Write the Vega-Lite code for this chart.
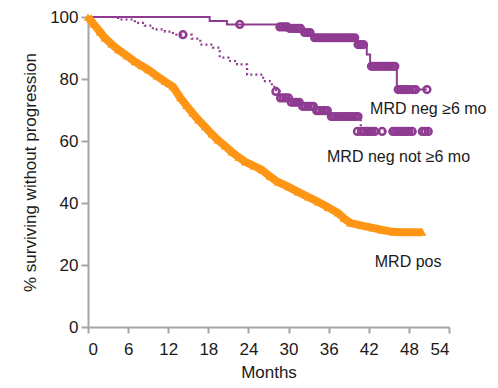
{
  "$schema": "https://vega.github.io/schema/vega-lite/v6.json",
  "width": 361,
  "height": 310,
  "autosize": "none",
  "padding": {"left": 88, "top": 17, "right": 49, "bottom": 61},
  "background": "white",
  "config": {
    "view": {"stroke": null},
    "font": "Liberation Sans, Arial",
    "axis": {
      "grid": false,
      "domainColor": "#a6a6a6",
      "domainWidth": 2,
      "tickColor": "#a6a6a6",
      "tickWidth": 2,
      "labelColor": "#1a1a1a",
      "titleColor": "#1a1a1a",
      "labelFont": "Liberation Sans, Arial",
      "titleFont": "Liberation Sans, Arial",
      "labelFontSize": 17,
      "titleFontSize": 17,
      "titleFontWeight": "normal"
    }
  },
  "datasets": {
    "solid": [
      {"month": 0, "pct": 100}, {"month": 18.2, "pct": 98.7}, {"month": 20.8, "pct": 97.6},
      {"month": 28.5, "pct": 96.8}, {"month": 30, "pct": 96.3}, {"month": 32.2, "pct": 95},
      {"month": 33.7, "pct": 93.3}, {"month": 40.2, "pct": 91.1}, {"month": 41.7, "pct": 87.9},
      {"month": 42.2, "pct": 84.1}, {"month": 46.2, "pct": 76.6}, {"month": 50.7, "pct": 76.6}
    ],
    "dotted": [
      {"month": 0, "pct": 100}, {"month": 4.5, "pct": 99.2}, {"month": 7.0, "pct": 98.1},
      {"month": 8.5, "pct": 97.2}, {"month": 9.7, "pct": 96}, {"month": 11.5, "pct": 95.3},
      {"month": 12.7, "pct": 94.3}, {"month": 15.5, "pct": 93}, {"month": 16.8, "pct": 91.1},
      {"month": 18.7, "pct": 90.1}, {"month": 19.7, "pct": 86.9}, {"month": 21, "pct": 85.8},
      {"month": 22.3, "pct": 84.7}, {"month": 23.8, "pct": 81.4}, {"month": 26.2, "pct": 79.3},
      {"month": 27.5, "pct": 77.5}, {"month": 28.1, "pct": 76}, {"month": 28.7, "pct": 73.9},
      {"month": 30.2, "pct": 72.5}, {"month": 32, "pct": 71.2}, {"month": 34, "pct": 69.8},
      {"month": 36.2, "pct": 67.9}, {"month": 40.8, "pct": 63.1}, {"month": 51.2, "pct": 63.1}
    ],
    "censor": [
      {"month": 22.7, "pct": 97.6},
      {"month": 28.7, "pct": 96.8}, {"month": 29.1, "pct": 96.8}, {"month": 29.5, "pct": 96.8}, {"month": 29.8, "pct": 96.8},
      {"month": 30.2, "pct": 96.3}, {"month": 30.6, "pct": 96.3}, {"month": 31.0, "pct": 96.3}, {"month": 31.4, "pct": 96.3},
      {"month": 31.8, "pct": 96.3}, {"month": 32.4, "pct": 95}, {"month": 32.8, "pct": 95}, {"month": 33.2, "pct": 95},
      {"month": 33.9, "pct": 93.3}, {"month": 34.3, "pct": 93.3}, {"month": 34.7, "pct": 93.3}, {"month": 35.1, "pct": 93.3},
      {"month": 35.5, "pct": 93.3}, {"month": 35.9, "pct": 93.3}, {"month": 36.3, "pct": 93.3}, {"month": 36.7, "pct": 93.3},
      {"month": 37.1, "pct": 93.3}, {"month": 37.5, "pct": 93.3}, {"month": 37.9, "pct": 93.3}, {"month": 38.3, "pct": 93.3},
      {"month": 38.7, "pct": 93.3}, {"month": 39.1, "pct": 93.3}, {"month": 39.5, "pct": 93.3}, {"month": 39.9, "pct": 93.3},
      {"month": 40.4, "pct": 91.1}, {"month": 40.8, "pct": 91.1}, {"month": 41.2, "pct": 91.1},
      {"month": 42.4, "pct": 84.1}, {"month": 42.8, "pct": 84.1}, {"month": 43.2, "pct": 84.1}, {"month": 43.6, "pct": 84.1},
      {"month": 44.0, "pct": 84.1}, {"month": 44.4, "pct": 84.1}, {"month": 44.8, "pct": 84.1}, {"month": 45.2, "pct": 84.1},
      {"month": 45.6, "pct": 84.1}, {"month": 45.9, "pct": 84.1},
      {"month": 46.4, "pct": 76.6}, {"month": 46.8, "pct": 76.6}, {"month": 47.2, "pct": 76.6}, {"month": 47.6, "pct": 76.6},
      {"month": 48.0, "pct": 76.6}, {"month": 48.6, "pct": 76.6}, {"month": 49.0, "pct": 76.6}, {"month": 50.7, "pct": 76.6},
      {"month": 14.2, "pct": 94.3}, {"month": 28.1, "pct": 76},
      {"month": 28.8, "pct": 73.9}, {"month": 29.2, "pct": 73.9}, {"month": 29.6, "pct": 73.9}, {"month": 30.0, "pct": 73.9},
      {"month": 30.4, "pct": 72.5}, {"month": 30.8, "pct": 72.5}, {"month": 31.2, "pct": 72.5}, {"month": 31.6, "pct": 72.5},
      {"month": 32.1, "pct": 71.2}, {"month": 32.5, "pct": 71.2}, {"month": 32.9, "pct": 71.2}, {"month": 33.3, "pct": 71.2},
      {"month": 33.7, "pct": 71.2}, {"month": 34.2, "pct": 69.8}, {"month": 34.6, "pct": 69.8}, {"month": 35.0, "pct": 69.8},
      {"month": 35.4, "pct": 69.8}, {"month": 35.8, "pct": 69.8},
      {"month": 36.4, "pct": 67.9}, {"month": 36.8, "pct": 67.9}, {"month": 37.2, "pct": 67.9}, {"month": 37.6, "pct": 67.9},
      {"month": 38.0, "pct": 67.9}, {"month": 38.4, "pct": 67.9}, {"month": 38.8, "pct": 67.9}, {"month": 39.2, "pct": 67.9},
      {"month": 39.6, "pct": 67.9}, {"month": 40.0, "pct": 67.9}, {"month": 40.4, "pct": 67.9},
      {"month": 40.3, "pct": 63.1}, {"month": 40.9, "pct": 63.1}, {"month": 41.3, "pct": 63.1}, {"month": 41.7, "pct": 63.1},
      {"month": 42.1, "pct": 63.1}, {"month": 42.5, "pct": 63.1}, {"month": 42.9, "pct": 63.1}, {"month": 44.0, "pct": 63.1},
      {"month": 45.6, "pct": 63.1}, {"month": 46.0, "pct": 63.1}, {"month": 46.4, "pct": 63.1}, {"month": 46.8, "pct": 63.1},
      {"month": 47.2, "pct": 63.1}, {"month": 47.6, "pct": 63.1}, {"month": 48.0, "pct": 63.1}, {"month": 48.5, "pct": 63.1},
      {"month": 50.0, "pct": 63.1}, {"month": 50.4, "pct": 63.1}, {"month": 50.9, "pct": 63.1}
    ],
    "pos": [
      {"month": 0, "pct": 100}, {"month": 0.8, "pct": 97.8}, {"month": 1.8, "pct": 95.2}, {"month": 2.5, "pct": 93.3},
      {"month": 3.5, "pct": 91.3}, {"month": 4.5, "pct": 89.5}, {"month": 5.8, "pct": 87.5}, {"month": 7.0, "pct": 85.6},
      {"month": 8.0, "pct": 84.3}, {"month": 9.0, "pct": 83.0}, {"month": 10.3, "pct": 81.0}, {"month": 11.5, "pct": 79.2},
      {"month": 12.7, "pct": 77.5}, {"month": 13.8, "pct": 74.0}, {"month": 14.7, "pct": 71.5}, {"month": 15.6, "pct": 69.1},
      {"month": 16.5, "pct": 66.8}, {"month": 17.5, "pct": 64.6}, {"month": 18.5, "pct": 62.3}, {"month": 19.4, "pct": 60.4},
      {"month": 20.5, "pct": 58.4}, {"month": 21.5, "pct": 56.5}, {"month": 22.5, "pct": 54.8}, {"month": 23.5, "pct": 53.3},
      {"month": 24.8, "pct": 52.0}, {"month": 26.0, "pct": 50.7}, {"month": 27.2, "pct": 48.6}, {"month": 28.4, "pct": 46.8},
      {"month": 30.0, "pct": 45.2}, {"month": 31.4, "pct": 43.6}, {"month": 32.9, "pct": 42.0}, {"month": 34.4, "pct": 40.4},
      {"month": 35.9, "pct": 38.6}, {"month": 37.4, "pct": 36.8}, {"month": 38.3, "pct": 35.0}, {"month": 39.2, "pct": 33.6},
      {"month": 40.8, "pct": 32.8}, {"month": 42.6, "pct": 32.0}, {"month": 44.0, "pct": 31.3}, {"month": 45.6, "pct": 30.7},
      {"month": 47.0, "pct": 30.6}, {"month": 48.5, "pct": 30.6}, {"month": 50.0, "pct": 30.6}
    ],
    "labels": [
      {"month": 42.2, "pct": 70.4, "label": "MRD neg ≥6 mo"},
      {"month": 35.75, "pct": 54.9, "label": "MRD neg not ≥6 mo"},
      {"month": 42.9, "pct": 21, "label": "MRD pos"}
    ]
  },
  "encoding": {
    "x": {
      "field": "month", "type": "quantitative",
      "scale": {"domain": [0, 54], "nice": false, "zero": false},
      "axis": {"values": [0, 6, 12, 18, 24, 30, 36, 42, 48, 54], "title": "Months", "tickSize": 6, "labelPadding": 8, "titlePadding": 7}
    },
    "y": {
      "field": "pct", "type": "quantitative",
      "scale": {"domain": [0, 100], "nice": false},
      "axis": {"values": [0, 20, 40, 60, 80, 100], "title": "% surviving without progression", "tickSize": 7, "labelPadding": 3, "titlePadding": 10}
    }
  },
  "layer": [
    {
      "data": {"name": "dotted"},
      "mark": {"type": "line", "interpolate": "step-after", "color": "#8e3b91", "strokeWidth": 2.2, "strokeDash": [2, 3]}
    },
    {
      "data": {"name": "solid"},
      "mark": {"type": "line", "interpolate": "step-after", "color": "#8e3b91", "strokeWidth": 2}
    },
    {
      "data": {"name": "censor"},
      "mark": {"type": "point", "shape": "circle", "filled": false, "color": "#8e3b91", "strokeWidth": 2.5, "size": 45, "opacity": 1}
    },
    {
      "data": {"name": "pos"},
      "mark": {"type": "line", "color": "#ff9515", "strokeWidth": 8}
    },
    {
      "data": {"name": "pos"},
      "mark": {"type": "point", "shape": "triangle-up", "filled": true, "color": "#ff9515", "size": 70, "opacity": 1}
    },
    {
      "data": {"name": "labels"},
      "mark": {"type": "text", "align": "left", "baseline": "middle", "fontSize": 16, "color": "#1a1a1a", "font": "Liberation Sans, Arial"},
      "encoding": {"text": {"field": "label", "type": "nominal"}}
    }
  ]
}
